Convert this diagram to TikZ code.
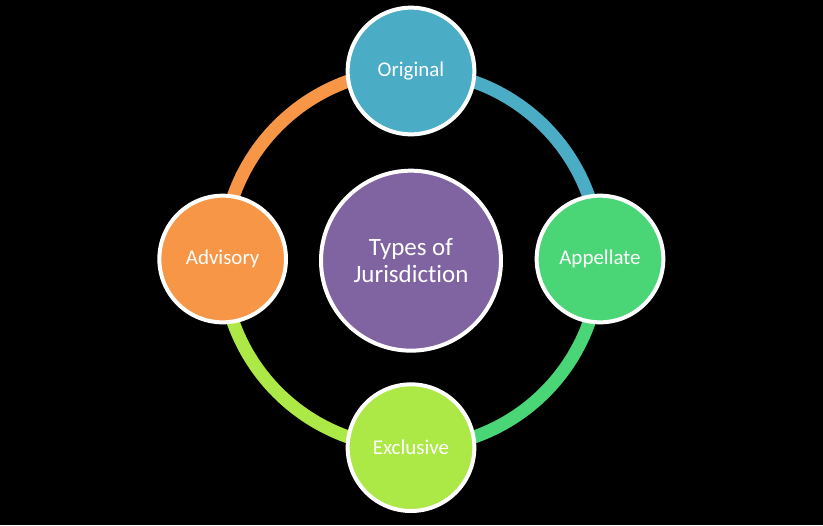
\documentclass[tikz,border=0pt]{standalone}
\usepackage{fontspec}
\setmainfont{Carlito}[Ligatures=NoCommon]
\usepackage{tikz}
\definecolor{cblue}{RGB}{75,172,198}
\definecolor{cgreen}{RGB}{74,214,118}
\definecolor{clime}{RGB}{172,233,70}
\definecolor{corange}{RGB}{247,150,70}
\definecolor{cpurple}{RGB}{128,100,162}

\begin{document}
\begin{tikzpicture}[
  ring/.style={line width=0.39cm},
  sat/.style={circle,draw=white,line width=3.4pt,minimum size=3.8cm,
    text=white,font=\fontsize{17.9}{21}\selectfont},
  hub/.style={circle,draw=white,line width=3.4pt,minimum size=5.4cm,
    text=white,align=center,font=\fontsize{21.3}{23}\selectfont}]
\fill[black] (-12.33,-7.98) rectangle (12.36,7.77);
\useasboundingbox (-12.33,-7.98) rectangle (12.36,7.77);
\coordinate (n) at (0,5.64);
\coordinate (e) at (5.67,0);
\coordinate (s) at (0,-5.66);
\coordinate (w) at (-5.65,0);

%% ring
\draw[ring,cblue] (n) arc (90:0:5.66);
\draw[ring,cgreen] (e) arc (0:-90:5.66);
\draw[ring,clime] (s) arc (-90:-180:5.66);
\draw[ring,corange] (w) arc (180:90:5.66);

\node[hub,fill=cpurple] (types) at (0,-0.05) {Types of\\Jurisdiction};
\node[sat,fill=cblue] (orig) at (n) {Original};
\node[sat,fill=cgreen] (appel) at (e) {Appellate};
\node[sat,fill=clime] (excl) at (s) {Exclusive};
\node[sat,fill=corange] (advis) at (w) {Advisory};
\end{tikzpicture}
\end{document}
